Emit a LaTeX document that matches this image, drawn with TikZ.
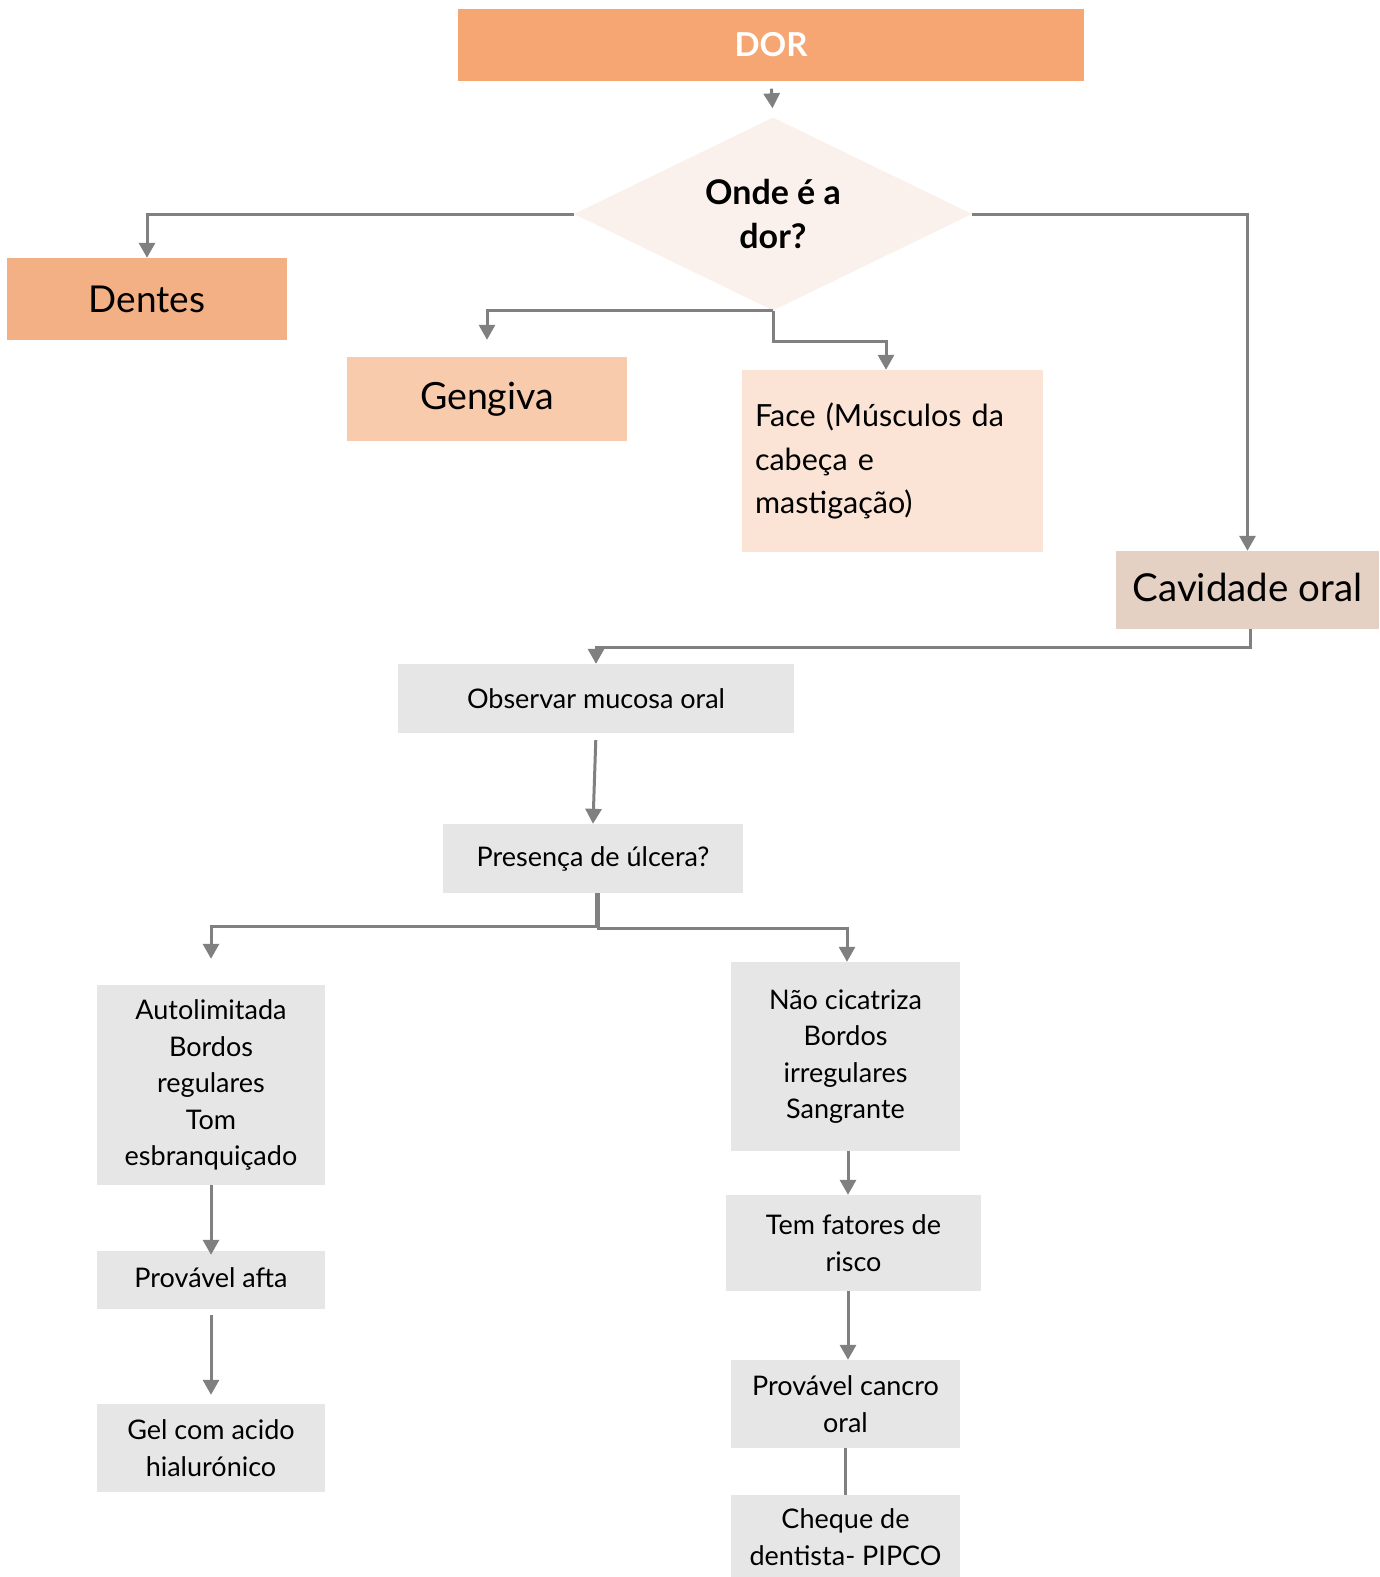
\documentclass[tikz,border=0pt]{standalone}
\usepackage{fontspec}
\setmainfont{Lato}
\usetikzlibrary{arrows.meta,shapes.geometric}
\definecolor{dorc}{HTML}{F5A673}
\definecolor{dentc}{HTML}{F3B084}
\definecolor{gengc}{HTML}{F7CBAC}
\definecolor{facec}{HTML}{FBE4D6}
\definecolor{cavc}{HTML}{E5D1C4}
\definecolor{diac}{HTML}{FBF1EC}
\definecolor{boxg}{HTML}{E6E6E6}
\definecolor{lineg}{HTML}{808080}
\begin{document}
\begin{tikzpicture}[x=1pt,y=-1pt,
  bx/.style={rectangle, inner sep=0pt, anchor=center},
  gbox/.style={bx, fill=boxg, align=center, font=\fontsize{27}{36.5}\selectfont},
  conn/.style={draw=lineg, line width=3pt},
  arr/.style={conn, -{Triangle[length=15pt,width=16pt]}}]
\useasboundingbox (0,0) rectangle (1379,1577);
\fill[white] (0,0) rectangle (1379,1577);
% top nodes
\node[bx, fill=dorc, minimum width=626pt, minimum height=71.5pt, text=white, font=\fontsize{33}{36}\selectfont\bfseries] (dor) at (771,44.75) {DOR};
\node[diamond, aspect=2.06, fill=diac, inner sep=0pt, minimum width=398pt, minimum height=193pt, align=center, font=\fontsize{34}{44}\selectfont\bfseries] (q) at (773,214) {\raisebox{-2pt}{Onde é a}\\\raisebox{-2pt}{dor?}};
\node[bx, fill=dentc, minimum width=280pt, minimum height=82pt, font=\fontsize{37}{44}\selectfont] (dentes) at (147,299) {Dentes};
\node[bx, fill=gengc, minimum width=280pt, minimum height=84pt, font=\fontsize{37.5}{44}\selectfont] (geng) at (487,399) {\raisebox{-3pt}{Gengiva}};
\node[bx, fill=facec, minimum width=301pt, minimum height=182pt, text width=275pt, align=left, font=\fontsize{30.5}{43.5}\selectfont] (face) at (892.5,461) {Face (Músculos da\\cabeça e\\mastigação)};
\node[bx, fill=cavc, minimum width=263pt, minimum height=78pt, font=\fontsize{38.5}{44}\selectfont] (cav) at (1247.5,590) {\raisebox{5pt}{Cavidade oral}};
% lower nodes
\node[gbox, minimum width=396pt, minimum height=69pt] (obs) at (596,698.5) {Observar mucosa oral};
\node[gbox, minimum width=300pt, minimum height=69pt] (pres) at (593,858.5) {\raisebox{-3pt}{Presença de úlcera?}};
\node[gbox, minimum width=228pt, minimum height=200pt] (auto) at (211,1085) {Autolimitada\\Bordos\\regulares\\Tom\\esbranquiçado};
\node[gbox, minimum width=228pt, minimum height=58pt] (afta) at (211,1280) {\raisebox{4pt}{Provável afta}};
\node[gbox, minimum width=228pt, minimum height=88pt] (gel) at (211,1448) {Gel com acido\\hialurónico};
\node[gbox, minimum width=229pt, minimum height=189pt] (nao) at (845.5,1056.5) {Não cicatriza\\Bordos\\irregulares\\Sangrante};
\node[gbox, minimum width=255pt, minimum height=96pt] (tem) at (853.5,1243) {Tem fatores de\\risco};
\node[gbox, minimum width=229pt, minimum height=88pt] (canc) at (845.5,1404) {Provável cancro\\oral};
\node[gbox, minimum width=229pt, minimum height=84pt] (cheq) at (845.5,1537) {Cheque de\\dentista- PIPCO};
% connectors
\draw[arr, shorten <=8pt, shorten >=9pt] (dor.south) -- (q.north);
\draw[arr] (q.west) -| (dentes.north);
\draw[arr, shorten >=17pt] (q.south) -| (geng.north);
\draw[arr] (q.south) -- ++(0,31) -| ([xshift=-6.5pt]face.north);
\draw[arr] (q.east) -| (cav.north);
\draw[arr] ([xshift=2.5pt]cav.south) -- ++(0,18) -| (obs.north);
\draw[arr, shorten <=7pt] (obs.south) -- (pres.north);
\draw[arr, shorten >=26pt] ([xshift=3pt]pres.south) -- ++(0,33) -| (auto.north);
\draw[arr] ([xshift=5pt]pres.south) -- ++(0,35) -| ([xshift=1.5pt]nao.north);
\draw[arr] (auto.south) -- ([yshift=-4pt]afta.north);
\draw[arr, shorten <=2pt, shorten >=9pt] ([yshift=-4pt]afta.south) -- (gel.north);
\draw[arr] ([xshift=2.5pt]nao.south) -- ([xshift=2.5pt]nao.south |- tem.north);
\draw[arr] ([xshift=2.5pt]canc.north |- tem.south) -- ([xshift=2.5pt]canc.north);
\draw[conn] (canc.south) -- (cheq.north);
\end{tikzpicture}
\end{document}
